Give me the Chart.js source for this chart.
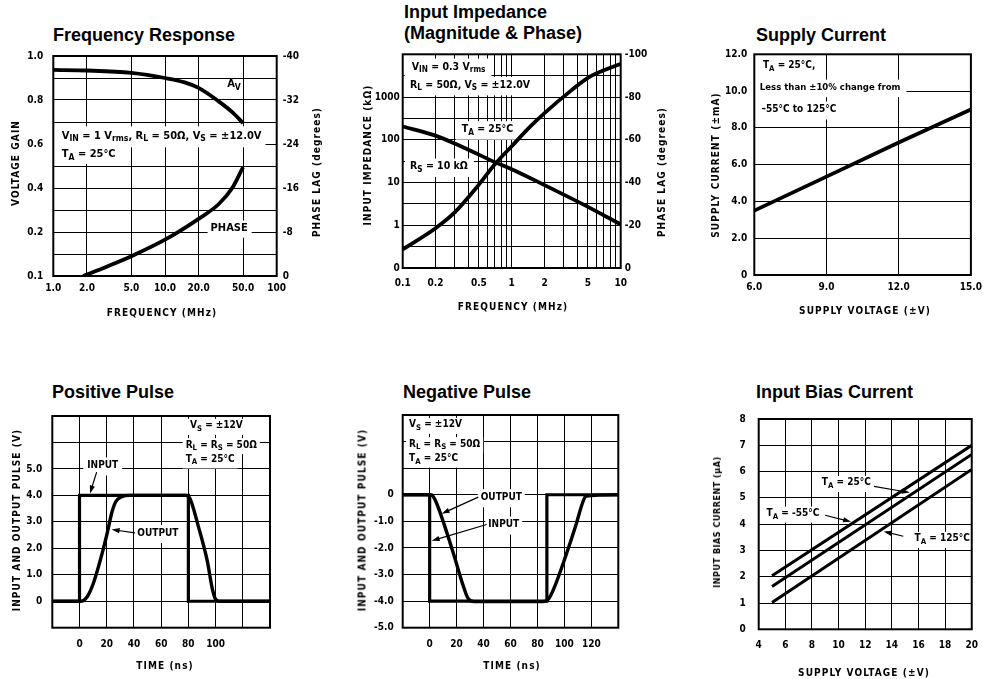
<!DOCTYPE html>
<html>
<head>
<meta charset="utf-8">
<script src="https://cdn.jsdelivr.net/npm/chart.js@4.4.0/dist/chart.umd.min.js"></script>
<style>
  body { margin: 0; background: #fff; width: 988px; height: 679px; position: relative; overflow: hidden; }
  canvas { position: absolute; }
  .title { position: absolute; font: bold 18px "Liberation Sans", Arial, sans-serif; line-height: 21px; white-space: nowrap; color: #000; }
  .ax { position: absolute; z-index: 2; font: bold 10px "Liberation Sans Narrow", "DejaVu Sans Condensed", sans-serif; letter-spacing: 1.1px; white-space: nowrap; transform: translate(-50%, -50%); color: #000; }
  .ax.v { transform: translate(-50%, -50%) rotate(-90deg); }
  .ax.small { font-size: 9px; letter-spacing: 0.5px; }
</style>
</head>
<body>
<div class="title" style="left:53px;top:25px">Frequency Response</div>
<div class="title" style="left:404px;top:2px">Input Impedance<br>(Magnitude &amp; Phase)</div>
<div class="title" style="left:756px;top:25px">Supply Current</div>
<div class="title" style="left:52px;top:382px">Positive Pulse</div>
<div class="title" style="left:403px;top:382px">Negative Pulse</div>
<div class="title" style="left:756px;top:382px">Input Bias Current</div>

<canvas id="freq"></canvas>
<canvas id="imp"></canvas>
<canvas id="supply"></canvas>
<canvas id="pos"></canvas>
<canvas id="neg"></canvas>
<canvas id="bias"></canvas>

<div class="ax v" style="left:15px;top:163px">VOLTAGE GAIN</div>
<div class="ax v" style="left:316px;top:172px">PHASE LAG (degrees)</div>
<div class="ax" style="left:162px;top:312px">FREQUENCY (MHz)</div>
<div class="ax v" style="left:367px;top:155px">INPUT IMPEDANCE (kΩ)</div>
<div class="ax v" style="left:661px;top:172px">PHASE LAG (degrees)</div>
<div class="ax" style="left:513px;top:306px">FREQUENCY (MHz)</div>
<div class="ax v" style="left:715px;top:165px">SUPPLY CURRENT (±mA)</div>
<div class="ax" style="left:865px;top:310px">SUPPLY VOLTAGE (±V)</div>
<div class="ax v" style="left:16px;top:520px">INPUT AND OUTPUT PULSE (V)</div>
<div class="ax" style="left:165px;top:665px">TIME (ns)</div>
<div class="ax v" style="left:362px;top:520px">INPUT AND OUTPUT PULSE (V)</div>
<div class="ax" style="left:512px;top:665px">TIME (ns)</div>
<div class="ax v small" style="left:717px;top:522px">INPUT BIAS CURRENT (µA)</div>
<div class="ax" style="left:864px;top:672px">SUPPLY VOLTAGE (±V)</div>

<script>
// --- Frequency Response ---
const frFreqTicks = [1, 2, 5, 10, 20, 50, 100];
const frFreqLabels = ['1.0', '2.0', '5.0', '10.0', '20.0', '50.0', '100'];
const gainTicks = [0, 0.1, 0.2, 0.3, 0.4, 0.5, 0.6, 0.7, 0.8, 0.9, 1.0];
const gainLabels = ['0.1', '', '0.2', '', '0.4', '', '0.6', '', '0.8', '', '1.0'];
const lagTicks = [0, 8, 16, 24, 32, 40];
const lagLabels = ['0', '-8', '-16', '-24', '-32', '-40'];
const avFreq = [1, 2, 5, 10, 15, 20, 30, 40, 50];
const avGain = [0.937, 0.934, 0.923, 0.9, 0.88, 0.855, 0.795, 0.745, 0.695];
const phFreq = [1.85, 3, 5, 10, 20, 30, 40, 50];
const phLag = [0, 1.7, 3.6, 6.6, 10.4, 13.0, 16.0, 19.8];

// --- Input Impedance ---
const impFreqTicks = [0.1, 0.2, 0.3, 0.4, 0.5, 0.6, 0.7, 0.8, 0.9, 1, 2, 3, 4, 5, 6, 7, 8, 9, 10];
const impFreqLabels = ['0.1', '0.2', '', '', '0.5', '', '', '', '', '1', '2', '', '', '5', '', '', '', '', '10'];
const impTicks = [0.1, 0.316, 1, 3.16, 10, 31.6, 100, 316, 1000, 3160, 10000];
const impLabels = ['0', '', '1', '', '10', '', '100', '', '1000', '', ''];
const impLagTicks = [0, 20, 40, 60, 80, 100];
const impLagLabels = ['0', '-20', '-40', '-60', '-80', '-100'];
const magFreq = [0.1, 0.2, 0.3, 0.5, 0.7, 1, 2, 5, 10];
const magKohm = [205, 125, 82, 45, 30, 20.5, 8.7, 2.7, 1.05];
const impPhFreq = [0.1, 0.2, 0.3, 0.5, 0.7, 1, 1.5, 2, 3.5, 5, 7, 10];
const impPhLag = [8.7, 18.6, 26, 39, 48.5, 57, 66.5, 72.5, 83, 89, 92.5, 95.5];

// --- Supply Current ---
const supVoltTicks = [6, 9, 12, 15];
const supVoltLabels = ['6.0', '9.0', '12.0', '15.0'];
const supCurTicks = [0, 2, 4, 6, 8, 10, 12];
const supCurLabels = ['0', '2.0', '4.0', '6.0', '8.0', '10.0', '12.0'];
const supVolt = [6, 9, 12, 15];
const supCur = [3.5, 5.35, 7.2, 9.0];

// --- Positive Pulse ---
const timeTicks = [-20, 0, 20, 40, 60, 80, 100, 120, 140];
const posTimeLabels = ['', '0', '20', '40', '60', '80', '100', '', ''];
const negTimeLabels = ['', '0', '20', '40', '60', '80', '100', '120', ''];
const posVoltTicks = [-1, 0, 1, 2, 3, 4, 5, 6, 7];
const posVoltLabels = ['', '0', '1.0', '2.0', '3.0', '4.0', '5.0', '', ''];
const posInT = [-20, 0, 0, 80, 80, 140];
const posInV = [0, 0, 4, 4, 0, 0];
const posOutT = [-20, 1, 6, 10, 15, 20, 24, 26.5, 31, 37, 78, 81, 87.5, 94, 97.5, 100, 103, 140];
const posOutV = [0, 0, 0.2, 0.65, 1.5, 2.5, 3.4, 3.75, 3.95, 4.0, 4.0, 3.9, 2.8, 1.5, 0.5, 0.08, 0, 0];

// --- Negative Pulse ---
const negVoltTicks = [-5, -4, -3, -2, -1, 0, 1, 2, 3];
const negVoltLabels = ['-5.0', '-4.0', '-3.0', '-2.0', '-1.0', '0', '', '', ''];
const negInT = [-20, 0, 0, 87, 87, 140];
const negInV = [0, 0, -4, -4, 0, 0];
const negOutT = [-20, 1, 2.5, 5, 11, 18.5, 24.75, 28.5, 33, 84, 88.5, 92, 101, 108.5, 113.5, 116, 140];
const negOutV = [0, 0, -0.06, -0.3, -1.15, -2.35, -3.4, -3.9, -4.02, -4.02, -3.9, -3.55, -2.3, -1.15, -0.3, -0.05, 0];

// --- Input Bias Current ---
const biasVoltTicks = [4, 6, 8, 10, 12, 14, 16, 18, 20];
const biasVoltLabels = ['4', '6', '8', '10', '12', '14', '16', '18', '20'];
const biasCurTicks = [0, 1, 2, 3, 4, 5, 6, 7, 8];
const biasCurLabels = ['0', '1', '2', '3', '4', '5', '6', '7', '8'];
const biasVolt = [5, 20];
const biasM55 = [2.04, 7.0];
const bias25 = [1.63, 6.65];
const bias125 = [1.02, 6.08];

const FONT = '"Liberation Sans Narrow", "DejaVu Sans Condensed", sans-serif';

// text like "V_{IN} = 1" -> [[text, isSub], ...]
const parseRich = s => {
    const out = [];
    const re = /_\{([^}]*)\}/g;
    let last = 0, m;
    while ((m = re.exec(s))) {
        if (m.index > last) out.push([s.slice(last, m.index), false]);
        out.push([m[1], true]);
        last = re.lastIndex;
    }
    if (last < s.length) out.push([s.slice(last), false]);
    return out;
};

const drawRich = (ctx, text, x, y, size, box) => {
    const parts = parseRich(text);
    const fMain = `bold ${size}px ${FONT}`;
    const fSub = `bold ${(size * 0.78).toFixed(1)}px ${FONT}`;
    let w = 0;
    parts.forEach(([t, sub]) => { ctx.font = sub ? fSub : fMain; w += ctx.measureText(t).width; });
    if (box) {
        ctx.fillStyle = '#fff';
        ctx.fillRect(x - box[0], y - size / 2 - box[2], w + box[0] + box[1], size + box[2] * 2 + 2);
    }
    ctx.fillStyle = '#000';
    ctx.textBaseline = 'middle';
    ctx.textAlign = 'left';
    let cx = x;
    parts.forEach(([t, sub]) => {
        ctx.font = sub ? fSub : fMain;
        ctx.fillText(t, cx, sub ? y + size * 0.3 : y);
        cx += ctx.measureText(t).width;
    });
};

const drawArrow = (ctx, x1, y1, x2, y2) => {
    const a = Math.atan2(y2 - y1, x2 - x1);
    ctx.strokeStyle = '#000';
    ctx.lineWidth = 1.2;
    ctx.beginPath();
    ctx.moveTo(x1, y1);
    ctx.lineTo(x2 - 5 * Math.cos(a), y2 - 5 * Math.sin(a));
    ctx.stroke();
    ctx.beginPath();
    ctx.moveTo(x2, y2);
    ctx.lineTo(x2 - 8 * Math.cos(a) + 2.6 * Math.sin(a), y2 - 8 * Math.sin(a) - 2.6 * Math.cos(a));
    ctx.lineTo(x2 - 8 * Math.cos(a) - 2.6 * Math.sin(a), y2 - 8 * Math.sin(a) + 2.6 * Math.cos(a));
    ctx.closePath();
    ctx.fillStyle = '#000';
    ctx.fill();
};

// notes + frame, drawn over the grid and under the curves
const notesPlugin = {
    id: 'notes',
    beforeDatasetsDraw(chart, args, opts) {
        const ctx = chart.ctx;
        const xs = chart.scales.x;
        const area = chart.chartArea;
        ctx.save();
        (opts.labels || []).forEach(n => {
            const ys = chart.scales[n.axis || 'y'];
            drawRich(ctx, n.text, xs.getPixelForValue(n.x), ys.getPixelForValue(n.y), n.size || opts.size || 11, n.box);
        });
        ctx.strokeStyle = '#000';
        ctx.lineWidth = 2;
        ctx.strokeRect(area.left, area.top, area.right - area.left, area.bottom - area.top);
        (opts.arrows || []).forEach(([p, q]) => {
            const ys = chart.scales.y;
            drawArrow(ctx, xs.getPixelForValue(p[0]), ys.getPixelForValue(p[1]),
                xs.getPixelForValue(q[0]), ys.getPixelForValue(q[1]));
        });
        ctx.restore();
    }
};

const axis = (o) => ({
    type: o.type || 'linear',
    position: o.position,
    min: o.min,
    max: o.max,
    afterBuildTicks: s => { s.ticks = o.vals.map(v => ({ value: v })); },
    grid: { display: o.grid !== false, color: '#000', lineWidth: 1, drawTicks: false },
    border: { display: false },
    ticks: {
        autoSkip: false, maxRotation: 0, padding: o.pad, color: '#000',
        font: { family: FONT, weight: 'bold', size: 10 },
        callback: (v, i) => o.labels[i]
    }
});

const series = (xs, ys, extra) => Object.assign({
    data: xs.map((x, i) => ({ x: x, y: ys[i] })),
    borderColor: '#000', borderWidth: 3.5, pointRadius: 0, fill: false, tension: 0
}, extra);

// box = [left, top, width, height] of the canvas, plot = [left, top, right, bottom] of the frame
const panel = (id, box, plot, scales, datasets, notes) => {
    const cv = document.getElementById(id);
    cv.style.left = box[0] + 'px';
    cv.style.top = box[1] + 'px';
    cv.width = box[2];
    cv.height = box[3];
    scales.x.afterFit = s => { s.height = box[1] + box[3] - plot[3]; };
    scales.y.afterFit = s => { s.width = plot[0] - box[0]; };
    if (scales.y2) scales.y2.afterFit = s => { s.width = box[0] + box[2] - plot[2]; };
    new Chart(cv, {
        type: 'line',
        data: { datasets: datasets },
        options: {
            responsive: false,
            animation: false,
            events: [],
            layout: { padding: { top: plot[1] - box[1], left: 0, bottom: 0, right: scales.y2 ? 0 : box[0] + box[2] - plot[2] } },
            scales: scales,
            plugins: { legend: { display: false }, tooltip: { enabled: false }, notes: notes }
        },
        plugins: [notesPlugin]
    });
};

panel('freq', [0, 40, 330, 290], [53.3, 54.3, 276.7, 276], {
    x: axis({ type: 'logarithmic', position: 'bottom', min: 1, max: 100, vals: frFreqTicks, labels: frFreqLabels, pad: 6 }),
    y: axis({ position: 'left', min: 0, max: 1, vals: gainTicks, labels: gainLabels, pad: 10 }),
    y2: axis({ position: 'right', min: 0, max: 40, vals: lagTicks, labels: lagLabels, pad: 6, grid: false })
}, [
    series(avFreq, avGain, { cubicInterpolationMode: 'monotone', borderWidth: 3.8 }),
    series(phFreq, phLag, { yAxisID: 'y2', cubicInterpolationMode: 'monotone', borderWidth: 3.8 })
], {
    size: 11,
    labels: [
        { text: 'A_{V}', x: 36, y: 0.87 },
        { text: 'V_{IN} = 1 V_{rms}, R_{L} = 50Ω, V_{S} = ±12.0V', x: 1.19, y: 0.637, box: [9, 4, 4] },
        { text: 'T_{A} = 25°C', x: 1.19, y: 0.553, box: [2, 3, 2] },
        { text: 'PHASE', x: 25.6, y: 0.2175, box: [3, 4, 2] }
    ]
});

panel('imp', [330, 40, 330, 290], [402.7, 54.3, 620.7, 268], {
    x: axis({ type: 'logarithmic', position: 'bottom', min: 0.1, max: 10, vals: impFreqTicks, labels: impFreqLabels, pad: 9 }),
    y: axis({ type: 'logarithmic', position: 'left', min: 0.1, max: 10000, vals: impTicks, labels: impLabels, pad: 3 }),
    y2: axis({ position: 'right', min: 0, max: 100, vals: impLagTicks, labels: impLagLabels, pad: 4, grid: false })
}, [
    series(magFreq, magKohm, { cubicInterpolationMode: 'monotone', borderWidth: 3.8 }),
    series(impPhFreq, impPhLag, { yAxisID: 'y2', cubicInterpolationMode: 'monotone', borderWidth: 3.8 })
], {
    size: 10.5,
    labels: [
        { text: 'V_{IN} = 0.3 V_{rms}', x: 0.121, y: 5100, box: [7, 6, 3] },
        { text: 'R_{L} = 50Ω, V_{S} = ±12.0V', x: 0.1167, y: 1900, box: [5, 6, 3] },
        { text: 'T_{A} = 25°C', x: 0.348, y: 175, box: [6, 6, 3] },
        { text: 'R_{S} = 10 kΩ', x: 0.1167, y: 23.4, box: [5, 6, 3] }
    ]
});

panel('supply', [660, 40, 328, 290], [754.3, 54.3, 976.7, 275], {
    x: axis({ position: 'bottom', min: 6, max: 15, vals: supVoltTicks, labels: supVoltLabels, pad: 6 }),
    y: axis({ position: 'left', min: 0, max: 12, vals: supCurTicks, labels: supCurLabels, pad: 7 })
}, [
    series(supVolt, supCur, { borderWidth: 3.8 })
], {
    size: 10,
    labels: [
        { text: 'T_{A} = 25°C,', x: 6.36, y: 11.38, box: [4, 4, 3] },
        { text: 'Less than ±10% change from', x: 6.23, y: 10.2, box: [5, 6, 3], size: 9.5 },
        { text: '–55°C to 125°C', x: 6.3, y: 9.0, box: [4, 4, 3] }
    ]
});

panel('pos', [0, 400, 330, 279], [52.3, 413.3, 270, 627.7], {
    x: axis({ position: 'bottom', min: -20, max: 140, vals: timeTicks, labels: posTimeLabels, pad: 11 }),
    y: axis({ position: 'left', min: -1, max: 7, vals: posVoltTicks, labels: posVoltLabels, pad: 10 })
}, [
    series(posInT, posInV, { borderWidth: 3.2 }),
    series(posOutT, posOutV, { borderWidth: 3.4, cubicInterpolationMode: 'monotone' })
], {
    size: 10,
    labels: [
        { text: 'V_{S} = ±12V', x: 81.2, y: 6.63, box: [3, 3, 2] },
        { text: 'R_{L} = R_{S} = 50Ω', x: 78, y: 5.9, box: [3, 3, 2] },
        { text: 'T_{A} = 25°C', x: 78, y: 5.36, box: [3, 3, 2] },
        { text: 'INPUT', x: 5.7, y: 5.13, box: [4, 4, 3] },
        { text: 'OUTPUT', x: 42.5, y: 2.58, box: [3, 4, 3] }
    ],
    arrows: [[[12.6, 4.88], [7.7, 4.07]], [[40.8, 2.58], [23.6, 2.71]]]
});

panel('neg', [330, 400, 330, 279], [402.7, 413.3, 618.3, 627.7], {
    x: axis({ position: 'bottom', min: -20, max: 140, vals: timeTicks, labels: negTimeLabels, pad: 11 }),
    y: axis({ position: 'left', min: -5, max: 3, vals: negVoltTicks, labels: negVoltLabels, pad: 9 })
}, [
    series(negInT, negInV, { borderWidth: 3.2 }),
    series(negOutT, negOutV, { borderWidth: 3.4, cubicInterpolationMode: 'monotone' })
], {
    size: 10,
    labels: [
        { text: 'V_{S} = ±12V', x: -15.3, y: 2.63, box: [3, 3, 2] },
        { text: 'R_{L} = R_{S} = 50Ω', x: -15.3, y: 1.9, box: [3, 3, 2] },
        { text: 'T_{A} = 25°C', x: -15.3, y: 1.36, box: [3, 3, 2] },
        { text: 'OUTPUT', x: 37.9, y: -0.09, box: [3, 3, 3] },
        { text: 'INPUT', x: 43.5, y: -1.12, box: [3, 3, 3] }
    ],
    arrows: [[[36.1, -0.09], [8.9, -0.71]], [[42.3, -1.12], [1.5, -1.73]]]
});

panel('bias', [660, 400, 328, 279], [758.7, 412.3, 976.7, 629.3], {
    x: axis({ position: 'bottom', min: 4, max: 20, vals: biasVoltTicks, labels: biasVoltLabels, pad: 10 }),
    y: axis({ position: 'left', min: 0, max: 8, vals: biasCurTicks, labels: biasCurLabels, pad: 13 })
}, [
    series(biasVolt, biasM55, { borderWidth: 3 }),
    series(biasVolt, bias25, { borderWidth: 3 }),
    series(biasVolt, bias125, { borderWidth: 3 })
], {
    size: 10,
    labels: [
        { text: 'T_{A} = 25°C', x: 8.74, y: 5.57, box: [3, 3, 2] },
        { text: 'T_{A} = -55°C', x: 4.59, y: 4.4, box: [3, 3, 2] },
        { text: 'T_{A} = 125°C', x: 15.71, y: 3.44, box: [3, 3, 2] }
    ],
    arrows: [[[12.66, 5.44], [15.35, 5.2]], [[8.99, 4.34], [10.94, 4.09]], [[14.86, 3.54], [13.39, 3.72]]]
});
</script>
</body>
</html>
